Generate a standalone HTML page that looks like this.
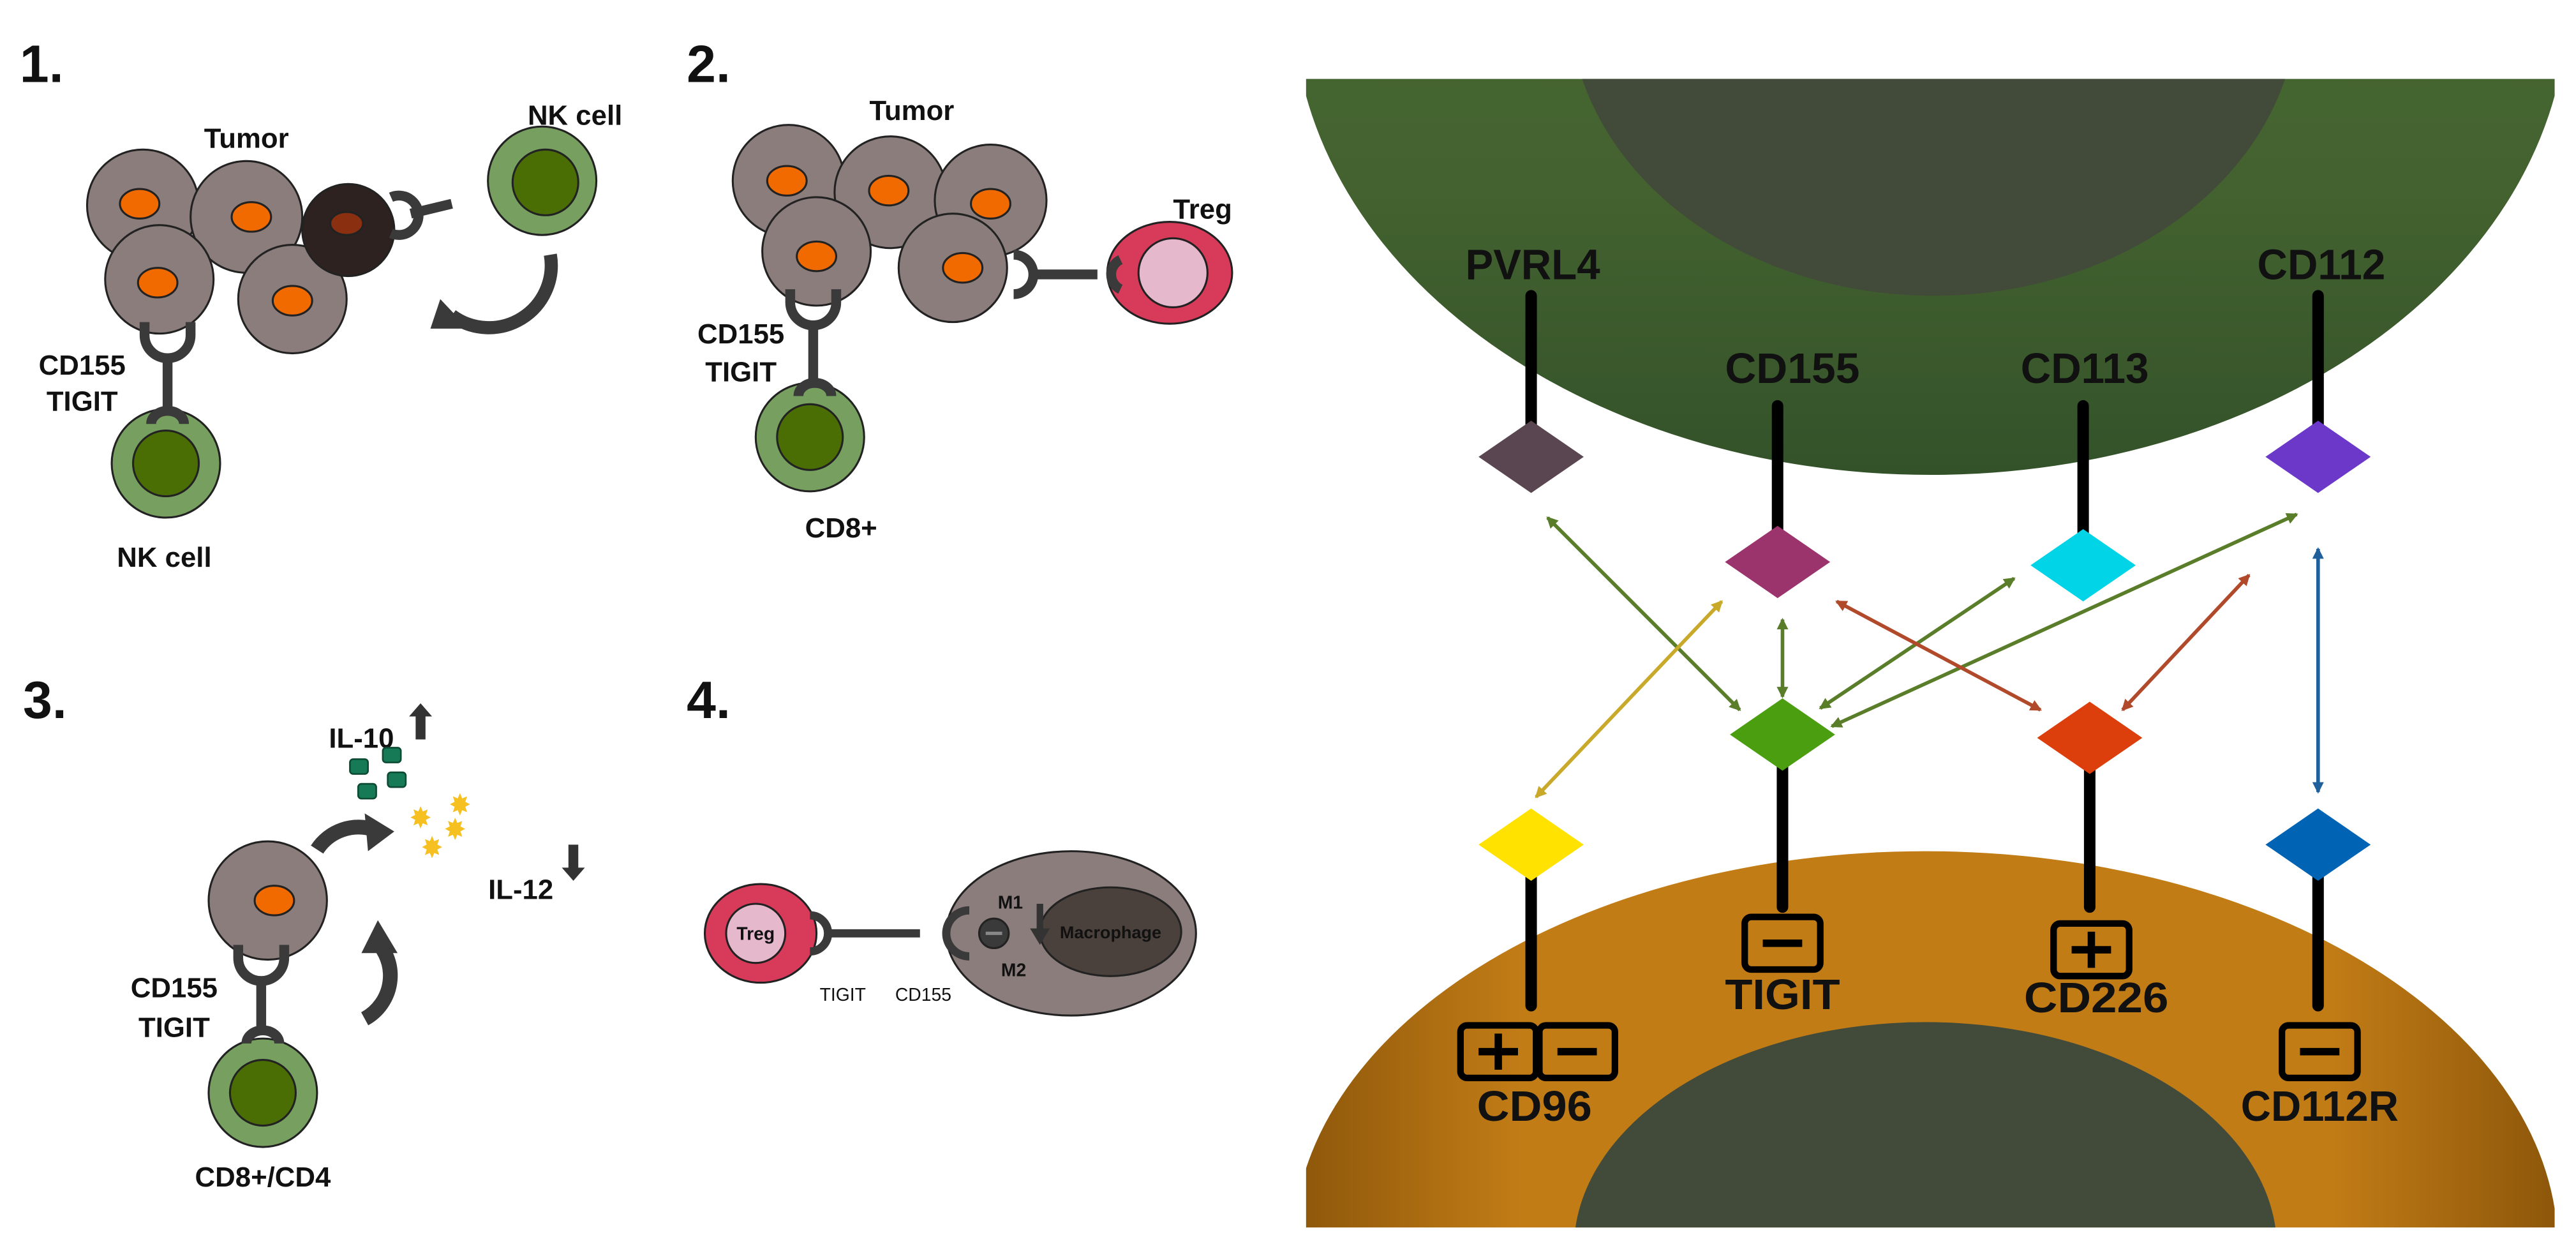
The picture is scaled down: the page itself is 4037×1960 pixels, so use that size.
<!DOCTYPE html>
<html><head><meta charset="utf-8"><style>
html,body{margin:0;padding:0;background:#fff;width:4037px;height:1960px;overflow:hidden;position:relative}
svg{display:block;position:absolute;left:0;top:0}
text{font-family:"Liberation Sans Narrow","Liberation Sans","DejaVu Sans",sans-serif;font-stretch:condensed;fill:#111}
</style></head><body>
<svg width="4037" height="1960" viewBox="0 0 1568 761.3" preserveAspectRatio="none" xmlns="http://www.w3.org/2000/svg">
<defs>
<linearGradient id="gg" x1="0" y1="0" x2="0" y2="1">
<stop offset="0" stop-color="#4d6f37"/><stop offset="0.7" stop-color="#43622f"/><stop offset="1" stop-color="#34522a"/></linearGradient>
<linearGradient id="og" x1="0" y1="0" x2="1" y2="0">
<stop offset="0" stop-color="#8c560a"/><stop offset="0.18" stop-color="#c27c16"/><stop offset="0.82" stop-color="#c27c16"/><stop offset="1" stop-color="#8c560a"/></linearGradient>
<marker id="ahg" markerWidth="7" markerHeight="7" refX="6" refY="3.5" orient="auto-start-reverse" markerUnits="userSpaceOnUse"><path d="M0,0 L7,3.5 L0,7 z" fill="#5a7d2a"/></marker>
<marker id="ahy" markerWidth="7" markerHeight="7" refX="6" refY="3.5" orient="auto-start-reverse" markerUnits="userSpaceOnUse"><path d="M0,0 L7,3.5 L0,7 z" fill="#c9a92a"/></marker>
<marker id="ahr" markerWidth="7" markerHeight="7" refX="6" refY="3.5" orient="auto-start-reverse" markerUnits="userSpaceOnUse"><path d="M0,0 L7,3.5 L0,7 z" fill="#b04a2a"/></marker>
<marker id="ahb" markerWidth="7" markerHeight="7" refX="6" refY="3.5" orient="auto-start-reverse" markerUnits="userSpaceOnUse"><path d="M0,0 L7,3.5 L0,7 z" fill="#1f5f9a"/></marker>
<clipPath id="top"><rect x="795" y="48" width="760" height="300"/></clipPath>
<clipPath id="bot"><rect x="795" y="400" width="760" height="347"/></clipPath>
</defs>

<g clip-path="url(#top)">
<ellipse cx="1175" cy="0" rx="388" ry="289" fill="url(#gg)"/>
<ellipse cx="1177" cy="0" rx="222" ry="180" fill="#424b3a"/>
</g>
<g clip-path="url(#bot)">
<ellipse cx="1172" cy="760" rx="385" ry="242" fill="url(#og)"/>
<ellipse cx="1172" cy="760" rx="214" ry="138" fill="#424b3a"/>
</g>

<g stroke="#000" stroke-width="7" stroke-linecap="round">
<line x1="932" y1="180" x2="932" y2="270"/>
<line x1="1082" y1="247" x2="1082" y2="333"/>
<line x1="1268" y1="247" x2="1268" y2="335"/>
<line x1="1411" y1="180" x2="1411" y2="270"/>
<line x1="932" y1="522" x2="932" y2="612"/>
<line x1="1085" y1="455" x2="1085" y2="552"/>
<line x1="1272" y1="457" x2="1272" y2="552"/>
<line x1="1411" y1="522" x2="1411" y2="612"/>
</g>
<g>
<polygon points="932,256 964,278 932,300 900,278" fill="#5a4651"/>
<polygon points="1082,320 1114,342 1082,364 1050,342" fill="#9b336d"/>
<polygon points="1268,322 1300,344 1268,366 1236,344" fill="#00d4e6"/>
<polygon points="1411,256 1443,278 1411,300 1379,278" fill="#6b38c9"/>
<polygon points="1085,425 1117,447 1085,469 1053,447" fill="#4a9e10"/>
<polygon points="1272,427 1304,449 1272,471 1240,449" fill="#dc3f0c"/>
<polygon points="932,492 964,514 932,536 900,514" fill="#ffe200"/>
<polygon points="1411,492 1443,514 1411,536 1379,514" fill="#0063b4"/>
</g>
<g fill="none" stroke-width="2.2">
<line x1="942" y1="315" x2="1059" y2="432" stroke="#5a7d2a" marker-start="url(#ahg)" marker-end="url(#ahg)"/>
<line x1="1048" y1="366" x2="935" y2="485" stroke="#c9a92a" marker-start="url(#ahy)" marker-end="url(#ahy)"/>
<line x1="1085" y1="377" x2="1085" y2="424" stroke="#5a7d2a" marker-start="url(#ahg)" marker-end="url(#ahg)"/>
<line x1="1226" y1="352" x2="1108" y2="431" stroke="#5a7d2a" marker-start="url(#ahg)" marker-end="url(#ahg)"/>
<line x1="1398" y1="313" x2="1115" y2="442" stroke="#5a7d2a" marker-start="url(#ahg)" marker-end="url(#ahg)"/>
<line x1="1118" y1="366" x2="1242" y2="432" stroke="#b04a2a" marker-start="url(#ahr)" marker-end="url(#ahr)"/>
<line x1="1369" y1="350" x2="1292" y2="432" stroke="#b04a2a" marker-start="url(#ahr)" marker-end="url(#ahr)"/>
<line x1="1411" y1="334" x2="1411" y2="482" stroke="#1f5f9a" marker-start="url(#ahb)" marker-end="url(#ahb)"/>
</g>
<g font-weight="bold" font-size="26" text-anchor="middle">
<text x="933" y="170" textLength="82" lengthAdjust="spacingAndGlyphs">PVRL4</text>
<text x="1091" y="233" textLength="82" lengthAdjust="spacingAndGlyphs">CD155</text>
<text x="1269" y="233" textLength="78" lengthAdjust="spacingAndGlyphs">CD113</text>
<text x="1413" y="170" textLength="78" lengthAdjust="spacingAndGlyphs">CD112</text>
<text x="1085" y="614" textLength="70" lengthAdjust="spacingAndGlyphs">TIGIT</text>
<text x="1276" y="616" textLength="88" lengthAdjust="spacingAndGlyphs">CD226</text>
<text x="934" y="682" textLength="70" lengthAdjust="spacingAndGlyphs">CD96</text>
<text x="1412" y="682" textLength="96" lengthAdjust="spacingAndGlyphs">CD112R</text>
</g>
<g fill="none" stroke="#000" stroke-width="4">
<rect x="1062" y="558" width="46" height="32" rx="4"/>
<rect x="1250" y="562" width="46" height="32" rx="4"/>
<rect x="889" y="624" width="46" height="32" rx="4"/>
<rect x="937" y="624" width="46" height="32" rx="4"/>
<rect x="1389" y="624" width="46" height="32" rx="4"/>
</g>
<g stroke="#000" stroke-width="4.5">
<line x1="1073" y1="574" x2="1097" y2="574"/>
<line x1="1261" y1="578" x2="1285" y2="578"/><line x1="1273" y1="567" x2="1273" y2="589"/>
<line x1="900" y1="640" x2="924" y2="640"/><line x1="912" y1="629" x2="912" y2="651"/>
<line x1="948" y1="640" x2="972" y2="640"/>
<line x1="1400" y1="640" x2="1424" y2="640"/>
</g>

<g font-size="32" font-weight="bold">
<text x="12" y="50">1.</text><text x="418" y="50">2.</text>
<text x="14" y="437">3.</text><text x="418" y="437">4.</text>
</g>
<g font-size="17" font-weight="bold" text-anchor="middle">
<text x="150" y="90">Tumor</text><text x="350" y="76">NK cell</text>
<text x="50" y="228">CD155</text><text x="50" y="250">TIGIT</text>
<text x="100" y="345">NK cell</text>
<text x="555" y="73">Tumor</text><text x="732" y="133">Treg</text>
<text x="451" y="209">CD155</text><text x="451" y="232">TIGIT</text>
<text x="512" y="327">CD8+</text>
<text x="220" y="455">IL-10</text><text x="317" y="547">IL-12</text>
<text x="106" y="607">CD155</text><text x="106" y="631">TIGIT</text>
<text x="160" y="722">CD8+/CD4</text>
</g>
<g stroke="#222" stroke-width="1.2">
<circle cx="87" cy="125" r="34" fill="#8a7d7b"/>
<circle cx="150" cy="132" r="34" fill="#8a7d7b"/>
<circle cx="97" cy="170" r="33" fill="#8a7d7b"/>
<circle cx="178" cy="182" r="33" fill="#8a7d7b"/>
<circle cx="212" cy="140" r="28" fill="#2e2220"/>
<ellipse cx="85" cy="124" rx="12" ry="9" fill="#f06a00"/>
<ellipse cx="153" cy="132" rx="12" ry="9" fill="#f06a00"/>
<ellipse cx="96" cy="172" rx="12" ry="9" fill="#f06a00"/>
<ellipse cx="178" cy="183" rx="12" ry="9" fill="#f06a00"/>
<ellipse cx="211" cy="136" rx="10" ry="7" fill="#8a3010"/>
<circle cx="330" cy="110" r="33" fill="#77a060"/><circle cx="332" cy="111" r="20" fill="#4a6e04"/>
<circle cx="101" cy="282" r="33" fill="#77a060"/><circle cx="101" cy="282" r="20" fill="#4a6e04"/>
</g>
<g fill="none" stroke="#3a3a3a" stroke-width="6">
<path d="M88,196 v8 a14,14 0 0 0 28,0 v-8"/><line x1="102" y1="218" x2="102" y2="252"/>
<path d="M92,258 a10,8 0 0 1 20,0"/>
<path d="M238,120 a12,12 0 1 1 0,22"/><line x1="250" y1="130" x2="275" y2="124"/>
<path d="M335,155 a38,38 0 0 1 -60,37" stroke-width="8"/>
</g>
<polygon points="268,182 285,200 262,200" fill="#3a3a3a"/>
<g stroke="#222" stroke-width="1.2">
<circle cx="480" cy="110" r="34" fill="#8a7d7b"/>
<circle cx="542" cy="117" r="34" fill="#8a7d7b"/>
<circle cx="603" cy="122" r="34" fill="#8a7d7b"/>
<circle cx="497" cy="153" r="33" fill="#8a7d7b"/>
<circle cx="580" cy="163" r="33" fill="#8a7d7b"/>
<ellipse cx="479" cy="110" rx="12" ry="9" fill="#f06a00"/>
<ellipse cx="541" cy="116" rx="12" ry="9" fill="#f06a00"/>
<ellipse cx="603" cy="124" rx="12" ry="9" fill="#f06a00"/>
<ellipse cx="497" cy="156" rx="12" ry="9" fill="#f06a00"/>
<ellipse cx="586" cy="163" rx="12" ry="9" fill="#f06a00"/>
<ellipse cx="712" cy="166" rx="38" ry="31" fill="#d83a5a"/><circle cx="714" cy="166" r="21" fill="#e6b8cc"/>
<circle cx="493" cy="266" r="33" fill="#77a060"/><circle cx="493" cy="266" r="20" fill="#4a6e04"/>
</g>
<g fill="none" stroke="#3a3a3a" stroke-width="6">
<path d="M481,176 v8 a14,14 0 0 0 28,0 v-8"/><line x1="495" y1="198" x2="495" y2="236"/>
<path d="M486,241 a10,8 0 0 1 20,0"/>
<path d="M617,155 a12,12 0 0 1 0,24"/><line x1="630" y1="167" x2="668" y2="167"/>
<path d="M682,158 a10,10 0 0 0 0,18"/>
</g>
<g stroke="#222" stroke-width="1.2">
<circle cx="163" cy="548" r="36" fill="#8a7d7b"/><ellipse cx="167" cy="548" rx="12" ry="9" fill="#f06a00"/>
<circle cx="160" cy="665" r="33" fill="#77a060"/><circle cx="160" cy="665" r="20" fill="#4a6e04"/>
</g>
<g fill="#157a55" stroke="#0c4a33" stroke-width="1">
<rect x="213" y="462" width="11" height="9" rx="2"/><rect x="233" y="455" width="11" height="9" rx="2"/>
<rect x="236" y="470" width="11" height="9" rx="2"/><rect x="218" y="477" width="11" height="9" rx="2"/>
</g>
<g font-size="18" text-anchor="middle">
<text x="256" y="504" style="fill:#f5c020">✸</text><text x="280" y="496" style="fill:#f5c020">✸</text>
<text x="277" y="511" style="fill:#f5c020">✸</text><text x="263" y="522" style="fill:#f5c020">✸</text>
</g>
<g fill="none" stroke="#3a3a3a" stroke-width="6">
<path d="M145,575 v8 a14,14 0 0 0 28,0 v-8"/><line x1="159" y1="597" x2="159" y2="630"/>
<path d="M150,635 a10,8 0 0 1 20,0"/>
<path d="M193,517 a30,30 0 0 1 35,-12" stroke-width="9"/>
<path d="M222,620 a30,30 0 0 0 4,-50" stroke-width="9"/>
</g>
<polygon points="222,495 240,506 224,518" fill="#3a3a3a"/>
<polygon points="220,580 230,560 242,580" fill="#3a3a3a"/>
<polygon points="249,436 256,428 263,436 259,436 259,450 253,450 253,436" fill="#333"/>
<polygon points="342,528 349,536 356,528 352,528 352,514 346,514 346,528" fill="#333"/>
<g stroke="#222" stroke-width="1.2">
<ellipse cx="652" cy="568" rx="76" ry="50" fill="#8a7d7b"/>
<ellipse cx="676" cy="567" rx="43" ry="27" fill="#4a403c"/>
<ellipse cx="463" cy="568" rx="34" ry="30" fill="#d83a5a"/>
<circle cx="460" cy="568" r="18" fill="#e6b8cc"/>
<circle cx="605" cy="568" r="9" fill="#3a3a3a"/>
</g>
<g fill="none" stroke="#3a3a3a" stroke-width="5">
<path d="M493,557 a10,10 0 0 1 0,22"/><line x1="503" y1="568" x2="560" y2="568"/>
<path d="M590,554 a14,14 0 0 0 0,28"/>
</g>
<line x1="600" y1="568" x2="610" y2="568" stroke="#888" stroke-width="2"/>
<polygon points="627,565 633,575 639,565 635,565 635,550 631,550 631,565" fill="#333"/>
<g font-size="11" font-weight="bold" text-anchor="middle">
<text x="460" y="572">Treg</text><text x="676" y="571" font-size="10.5">Macrophage</text>
<text x="615" y="553">M1</text><text x="617" y="594">M2</text>
</g>
<g font-size="11" text-anchor="middle">
<text x="513" y="609">TIGIT</text><text x="562" y="609">CD155</text>
</g>
</svg>
</body></html>
